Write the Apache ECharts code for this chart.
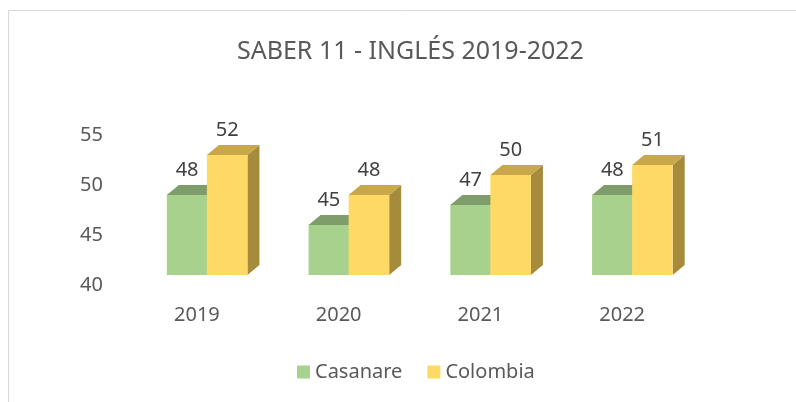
<!DOCTYPE html>
<html>
<head>
<meta charset="utf-8">
<script src="https://cdn.jsdelivr.net/npm/echarts@6/dist/echarts.min.js"></script>
<style>
html, body { margin: 0; padding: 0; background: #fff; }
#chart { width: 796px; height: 402px; }
</style>
</head>
<body>
<div id="chart"></div>
<script>
// datos
var categories = ['2019', '2020', '2021', '2022'];
var casanare = [48, 45, 47, 48];
var colombia = [52, 48, 50, 51];
var seriesNames = ['Casanare', 'Colombia'];

var chart = echarts.init(document.getElementById('chart'));

// colores de cada serie: frente, tapa, lado
var palette = [
    { front: '#a9d18e', top: '#7f9d6a', side: '#7f9d6a' },
    { front: '#ffd966', top: '#c8a84b', side: '#a68b3c' }
];

function makeRender(idx) {
    return function (params, api) {
        var cat = api.value(0), v = api.value(1);
        var c = api.coord([cat, v]);
        var b = api.coord([cat, 40]);
        var band = api.size([1, 0])[0];
        var w = band * 0.286;
        var x0 = c[0] + (idx === 0 ? -0.212 : 0.0706) * band;
        var lift = 10, dx = 12, dy = 10;
        var yTop = c[1] - lift, yBot = b[1] - lift;
        var col = palette[idx];
        return {
            type: 'group',
            children: [
                { type: 'polygon', shape: { points: [[x0 + w, yTop], [x0 + w + dx, yTop - dy], [x0 + w + dx, yBot - dy], [x0 + w, yBot]] }, style: { fill: col.side } },
                { type: 'polygon', shape: { points: [[x0, yTop], [x0 + w, yTop], [x0 + w + dx, yTop - dy], [x0 + dx, yTop - dy]] }, style: { fill: col.top } },
                { type: 'rect', shape: { x: x0, y: yTop, width: w, height: yBot - yTop }, style: { fill: col.front } },
                { type: 'text', style: { text: String(v), x: x0 + w / 2, y: yTop - 25, align: 'center', verticalAlign: 'middle', fill: '#404040', font: '20px "Noto Sans"' } }
            ]
        };
    };
}

var option = {
    animation: false,
    backgroundColor: '#ffffff',
    textStyle: { fontFamily: 'Noto Sans' },
    title: {
        text: 'SABER 11 - INGLÉS 2019-2022',
        left: 232,
        top: 34,
        textStyle: { color: '#595959', fontSize: 25, fontWeight: 'normal', fontFamily: 'Noto Sans' }
    },
    legend: {
        left: 292,
        top: 357,
        itemWidth: 13,
        itemHeight: 13,
        itemGap: 25,
        icon: 'rect',
        textStyle: { color: '#595959', fontSize: 20, fontFamily: 'Noto Sans' },
        data: seriesNames
    },
    grid: { left: 126, right: 103, top: 135, bottom: 117 },
    xAxis: {
        type: 'category',
        data: categories,
        axisLine: { show: false },
        axisTick: { show: false },
        axisLabel: { color: '#595959', fontSize: 20, margin: 20 }
    },
    yAxis: {
        type: 'value',
        min: 40,
        max: 55,
        interval: 5,
        axisLine: { show: false },
        axisTick: { show: false },
        splitLine: { show: false },
        axisLabel: { color: '#595959', fontSize: 20, margin: 23 }
    },
    series: [
        {
            name: seriesNames[0],
            type: 'custom',
            itemStyle: { color: palette[0].front },
            renderItem: makeRender(0),
            encode: { x: 0, y: 1 },
            data: casanare.map(function (v, i) { return [i, v]; })
        },
        {
            name: seriesNames[1],
            type: 'custom',
            itemStyle: { color: palette[1].front },
            renderItem: makeRender(1),
            encode: { x: 0, y: 1 },
            data: colombia.map(function (v, i) { return [i, v]; })
        }
    ],
    graphic: [
        { type: 'line', shape: { x1: 8.5, y1: 10.5, x2: 796, y2: 10.5 }, style: { stroke: '#d9d9d9', lineWidth: 1 } },
        { type: 'line', shape: { x1: 8.5, y1: 10.5, x2: 8.5, y2: 402 }, style: { stroke: '#d9d9d9', lineWidth: 1 } }
    ]
};

chart.setOption(option);
</script>
</body>
</html>
